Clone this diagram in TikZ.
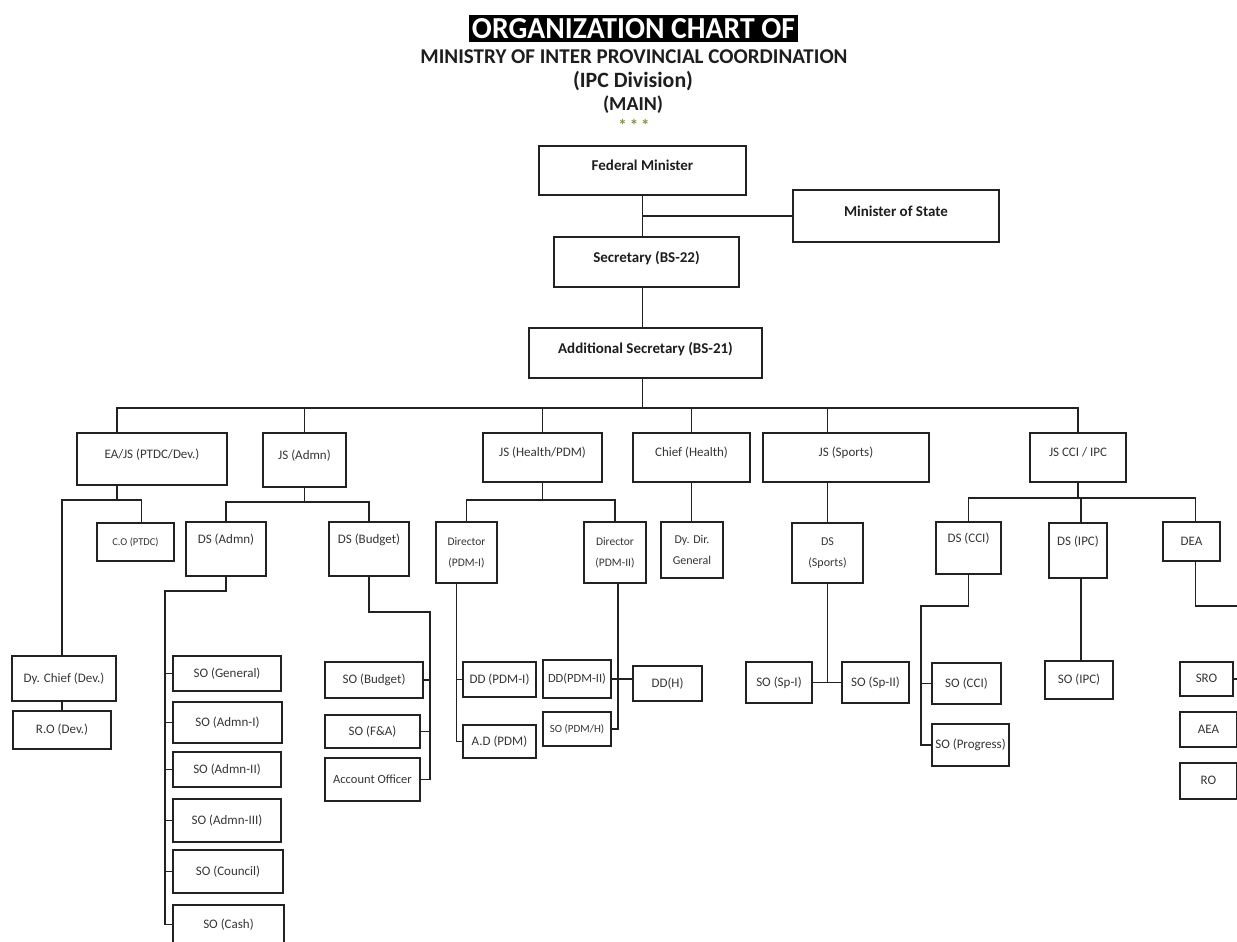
\documentclass[tikz,border=0pt]{standalone}
\usepackage{fontspec}
\setmainfont{Carlito}
\usepackage{graphicx}
\definecolor{linec}{HTML}{222222}
\definecolor{txtc}{HTML}{363636}
\definecolor{topc}{HTML}{1E1E1E}
\definecolor{starc}{HTML}{8E8E3C}
\tikzset{
  box/.style={draw=linec, line width=2.1pt, inner sep=0pt, text=txtc, font=\fontsize{13}{15}\selectfont},
  one/.style={text height=9pt, text depth=2pt},
  lvl2/.style={font=\fontsize{13}{16}\selectfont, text depth=11pt},
  lvl3/.style={text depth=20pt},
  two/.style={align=center, font=\fontsize{12}{21}\selectfont},
  topb/.style={font=\bfseries\fontsize{15}{18}\selectfont, text=topc, text height=10pt, text depth=10pt},
  conn/.style={draw=linec, line width=1.9pt}
}
\newcommand{\obox}[7][]{\node[box,one,#1,minimum width={#5pt-#3pt},minimum height={#6pt-#4pt}] (#2) at ({(#3+#5)/2},{(#4+#6)/2}) {#7};}
\newcommand{\obtwo}[7][]{\node[box,two,#1,minimum width={#5pt-#3pt},minimum height={#6pt-#4pt}] (#2) at ({(#3+#5)/2},{(#4+#6)/2}) {#7};}
\begin{document}
\begin{tikzpicture}[x=1pt,y=-1pt]
\useasboundingbox (0,0) rectangle (1237,942);
\clip (0,0) rectangle (1237,942);
\fill[white] (0,0) rectangle (1237,942);

% ---- title ----
\node[fill=black, text=white, inner sep=0pt, minimum width=329pt, minimum height=27pt] (title) at (633.5,28.5)
  {\resizebox{323pt}{20pt}{\bfseries ORGANIZATION CHART OF}};
\node[inner sep=0pt, text=topc] (sub1) at (634,57) {\resizebox{427pt}{!}{\bfseries MINISTRY OF INTER PROVINCIAL COORDINATION}};
\node[inner sep=0pt, text=topc] (sub2) at (633,81.5) {\resizebox{120pt}{!}{\bfseries (IPC Division)}};
\node[inner sep=0pt, text=topc] (sub3) at (633,104.5) {\resizebox{60pt}{!}{\bfseries (MAIN)}};
\node[inner sep=0pt, text=starc, font=\bfseries\fontsize{17}{19}\selectfont] (stars) at (634,125) {*\,*\,*};

% ---- top boxes ----
\obox[topb]{fm}{539}{146}{746}{195}{Federal Minister}
\obox[topb]{mos}{793}{190}{999}{242}{Minister of State}
\obox[topb]{sec}{554}{237}{739}{287}{Secretary (BS-22)}
\obox[topb]{as}{529}{328}{762}{378}{Additional Secretary (BS-21)}

% ---- level 2 ----
\obox[lvl2]{ea}{77}{433}{227}{485}{EA/JS (PTDC/Dev.)}
\obox[lvl2]{jsa}{263}{433}{346}{487}{JS (Admn)}
\obox[lvl2]{jsh}{483}{433}{602}{482}{JS (Health/PDM)}
\obox[lvl2]{chief}{633}{433}{750}{482}{Chief (Health)}
\obox[lvl2]{jss}{763}{433}{929}{482}{JS (Sports)}
\obox[lvl2]{jscci}{1030}{433}{1126}{482}{JS CCI / IPC}

% ---- level 3 ----
\obox[font=\fontsize{10.5}{13}\selectfont]{co}{97}{523}{174}{561}{C.O (PTDC)}
\obox[lvl3]{dsa}{186}{522}{266}{576}{DS (Admn)}
\obox[lvl3]{dsb}{329}{522}{409}{576}{DS (Budget)}
\obtwo[font=\fontsize{11.5}{21}\selectfont]{dir1}{436}{522}{497}{583}{Director\\(PDM-I)}
\obtwo[font=\fontsize{11.5}{21}\selectfont]{dir2}{584}{522}{646}{583}{Director\\(PDM-II)}
\obtwo{dydir}{661}{522}{723}{578}{Dy. Dir.\\General}
\obtwo{dss}{792}{523}{863}{583}{DS\\(Sports)}
\obox[lvl3]{dscci}{936}{522}{1001}{574}{DS (CCI)}
\obox[lvl3]{dsipc}{1049}{523}{1107}{578}{DS (IPC)}
\obox{dea}{1163}{522}{1220}{561}{DEA}

% ---- bottom ----
\obox{dyc}{12}{656}{116}{701}{Dy. Chief (Dev.)}
\obox{ro}{13}{711}{111}{749}{R.O (Dev.)}
\obox{sogen}{173}{656}{281}{691}{SO (General)}
\obox{soa1}{173}{702}{282}{743}{SO (Admn-I)}
\obox{soa2}{173}{752}{281}{787}{SO (Admn-II)}
\obox{soa3}{173}{799}{281}{842}{SO (Admn-III)}
\obox{socou}{173}{850}{283}{893}{SO (Council)}
\obox{socash}{173}{905}{284}{944}{SO (Cash)}
\obox{sobud}{325}{662}{423}{698}{SO (Budget)}
\obox{sofa}{325}{715}{420}{748}{SO (F\&A)}
\obox[font=\fontsize{12.5}{15}\selectfont]{acco}{325}{758}{420}{801}{Account Officer}
\obox{dd1}{463}{662}{536}{697}{DD (PDM-I)}
\obox{adpdm}{463}{725}{536}{758}{A.D (PDM)}
\obox[font=\fontsize{12.5}{15}\selectfont]{dd2}{543}{660}{611}{698}{DD(PDM-II)}
\obox[font=\fontsize{11}{13}\selectfont]{sopdmh}{543}{712}{611}{746}{SO (PDM/H)}
\obox{ddh}{633}{666}{702}{701}{DD(H)}
\obox{sosp1}{746}{662}{812}{703}{SO (Sp-I)}
\obox{sosp2}{842}{662}{909}{703}{SO (Sp-II)}
\obox{socci}{932}{663}{1001}{704}{SO (CCI)}
\obox{soprog}{932}{724}{1009}{766}{SO (Progress)}
\obox{soipc}{1045}{661}{1113}{699}{SO (IPC)}
\obox{sro}{1180}{662}{1233}{696}{SRO}
\obox{aea}{1180}{712}{1237}{747}{AEA}
\obox{rox}{1180}{763}{1237}{799}{RO}

% ---- helper coordinates ----
\coordinate (busL) at (117,408);
\coordinate (eaT) at ([xshift=-35pt]ea.north);
\coordinate (eaB) at ([xshift=-35pt]ea.south);
\coordinate (lvEA) at (0,500);
\coordinate (lvAD) at (0,502);
\coordinate (lvHE) at (0,500);
\coordinate (lvCC) at (0,498);
\coordinate (coT) at ([xshift=6pt]co.north);
\coordinate (dycT) at ([xshift=-2pt]dyc.north);
\coordinate (dsaL) at (165,591);
\coordinate (dsbR) at (430,612);
\coordinate (d1v) at ([xshift=-10pt]dir1.south);
\coordinate (d2v) at ([xshift=3pt]dir2.south);
\coordinate (dsipcT) at ([xshift=3pt]dsipc.north);
\coordinate (dsipcB) at ([xshift=3pt]dsipc.south);
\coordinate (dscL) at (921,606);
\coordinate (deaT) at ([xshift=4pt]dea.north);
\coordinate (deaB) at ([xshift=4pt]dea.south);
\coordinate (deaR) at (1250,606);

% ---- connectors ----
\draw[conn] (fm.south) -- (fm.south |- sec.north);
\draw[conn] (fm.south |- mos.west) -- (mos.west);
\draw[conn] (fm.south |- sec.south) -- (fm.south |- as.north);
\draw[conn] (fm.south |- as.south) -- (fm.south |- busL);
\draw[conn] (eaT) -- (eaT |- busL) -- (jscci.north |- busL) -- (jscci.north);
\draw[conn] (jsa.north |- busL) -- (jsa.north);
\draw[conn] (jsh.north |- busL) -- (jsh.north);
\draw[conn] (chief.north |- busL) -- (chief.north);
\draw[conn] (dss.north |- busL) -- (dss.north |- jss.north);

% EA
\draw[conn] (eaB) -- (eaB |- lvEA);
\draw[conn] (dycT) -- (dycT |- lvEA) -- (coT |- lvEA) -- (coT);
\draw[conn] (ro.north |- dyc.south) -- (ro.north);

% Admn
\draw[conn] (jsa.south) -- (jsa.south |- lvAD);
\draw[conn] (dsa.north) -- (dsa.north |- lvAD) -| (dsb.north);
\draw[conn] (dsa.south) |- (dsaL) -- (dsaL |- socash.west) -- (socash.west);
\foreach \n in {sogen,soa1,soa2,soa3,socou}{\draw[conn] (dsaL |- \n.west) -- (\n.west);}
\draw[conn] (dsb.south) |- (dsbR) -- (dsbR |- acco.east) -- (acco.east);
\draw[conn] (dsbR |- sobud.east) -- (sobud.east);
\draw[conn] (dsbR |- sofa.east) -- (sofa.east);

% Health
\draw[conn] (jsh.south) -- (jsh.south |- lvHE);
\draw[conn] (dir1.north) -- (dir1.north |- lvHE) -| (dir2.north);
\draw[conn] (d1v) -- (d1v |- adpdm.west) -- (adpdm.west);
\draw[conn] (d1v |- dd1.west) -- (dd1.west);
\draw[conn] (d2v) -- (d2v |- sopdmh.east) -- (sopdmh.east);
\draw[conn] (dd2.east) -- (dd2.east -| ddh.west);
\draw[conn] (chief.south) -- (chief.south |- dydir.north);

% Sports
\draw[conn] (jss.south -| dss.north) -- (dss.north);
\draw[conn] (dss.south) -- (dss.south |- sosp1.east);
\draw[conn] (sosp1.east) -- (sosp2.west);

% CCI / IPC
\draw[conn] (jscci.south) -- (jscci.south |- lvCC);
\draw[conn] (dscci.north) -- (dscci.north |- lvCC) -| (deaT);
\draw[conn] (dsipcT |- lvCC) -- (dsipcT);
\draw[conn] (dsipcB) -- (dsipcB |- soipc.north);
\draw[conn] (dscci.south) |- (dscL) -- (dscL |- soprog.west) -- (soprog.west);
\draw[conn] (dscL |- socci.west) -- (socci.west);
\draw[conn] (deaB) |- (deaR) -- (deaR |- rox.east) -- (rox.east);
\draw[conn] (deaR |- sro.east) -- (sro.east);
\draw[conn] (deaR |- aea.east) -- (aea.east);
\end{tikzpicture}
\end{document}
